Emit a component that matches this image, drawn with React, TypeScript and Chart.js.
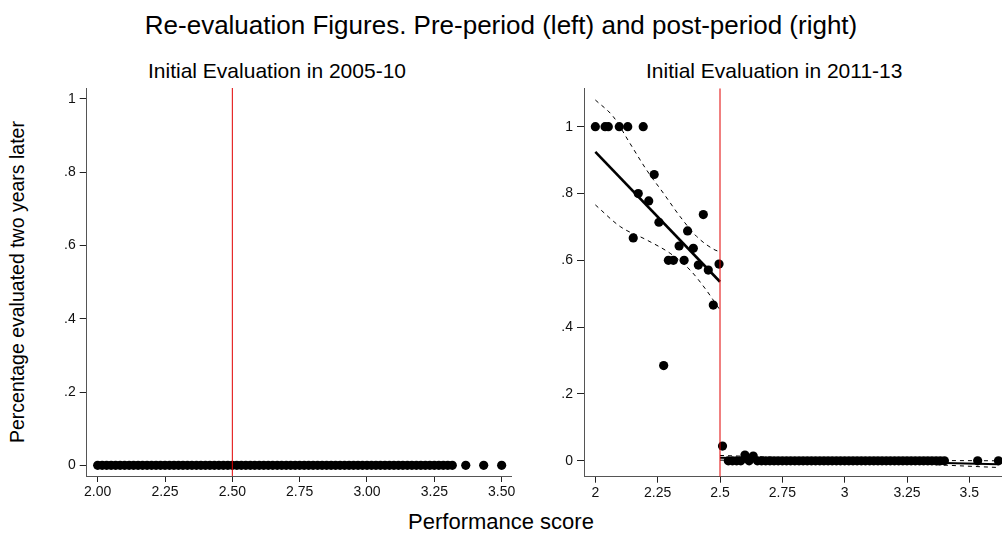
import React, { useEffect, useRef } from "react";
import { Chart, registerables } from "chart.js";

Chart.register(...registerables);

const FONT = "'Liberation Sans', Arial, Helvetica, sans-serif";
Chart.defaults.font.family = FONT;

// ---------- Texts ----------
const MAIN_TITLE = "Re-evaluation Figures. Pre-period (left) and post-period (right)";
const LEFT_TITLE = "Initial Evaluation in 2005-10";
const RIGHT_TITLE = "Initial Evaluation in 2011-13";
const Y_TITLE = "Percentage evaluated two years later";
const X_TITLE = "Performance score";

// ---------- Shared ----------
const CUTOFF = 2.5;
const yTicks = [0, 0.2, 0.4, 0.6, 0.8, 1];

// ---------- Left panel: 2005-10 ----------
const leftXTicks = [2.0, 2.25, 2.5, 2.75, 3.0, 3.25, 3.5];
const preScores = [
  2, 2.0167, 2.0333, 2.05, 2.0667, 2.0833, 2.1, 2.1167, 2.1333, 2.15,
  2.1667, 2.1833, 2.2, 2.2167, 2.2333, 2.25, 2.2667, 2.2833, 2.3, 2.3167,
  2.3333, 2.35, 2.3667, 2.3833, 2.4, 2.4167, 2.4333, 2.45, 2.4667, 2.4833,
  2.5, 2.5167, 2.5333, 2.55, 2.5667, 2.5833, 2.6, 2.6167, 2.6333, 2.65,
  2.6667, 2.6833, 2.7, 2.7167, 2.7333, 2.75, 2.7667, 2.7833, 2.8, 2.8167,
  2.8333, 2.85, 2.8667, 2.8833, 2.9, 2.9167, 2.9333, 2.95, 2.9667, 2.9833,
  3, 3.0167, 3.0333, 3.05, 3.0667, 3.0833, 3.1, 3.1167, 3.1333, 3.15,
  3.1667, 3.1833, 3.2, 3.2167, 3.2333, 3.25, 3.2667, 3.2833, 3.3, 3.3167,
  3.3667, 3.4333, 3.5,
];
// every 2005-10 bin was re-evaluated at a share of 0
const PRE_SHARE = 0;

// ---------- Right panel: 2011-13 ----------
const rightXTicks = [2, 2.25, 2.5, 2.75, 3, 3.25, 3.5];
// bins below the cutoff
const belowX = [
  2.0, 2.039, 2.052, 2.096, 2.13, 2.192, 2.236, 2.172, 2.214, 2.255, 2.152, 2.433,
  2.37, 2.336, 2.393, 2.293, 2.313, 2.356, 2.413, 2.453, 2.496, 2.473, 2.274,
];
const belowY = [
  1, 1, 1, 1, 1, 1, 0.857, 0.8, 0.778, 0.714, 0.667, 0.737,
  0.688, 0.643, 0.636, 0.6, 0.6, 0.6, 0.586, 0.571, 0.589, 0.466, 0.285,
];
// bins above the cutoff with a non-zero share
const aboveX = [2.51, 2.6, 2.6333];
const aboveY = [0.044, 0.017, 0.014];
// bins above the cutoff with a share of 0
const aboveZeroX = [
  2.5333, 2.55, 2.5667, 2.5833, 2.6167, 2.65, 2.6667, 2.6833, 2.7, 2.7167,
  2.7333, 2.75, 2.7667, 2.7833, 2.8, 2.8167, 2.8333, 2.85, 2.8667, 2.8833,
  2.9, 2.9167, 2.9333, 2.95, 2.9667, 2.9833, 3, 3.0167, 3.0333, 3.05,
  3.0667, 3.0833, 3.1, 3.1167, 3.1333, 3.15, 3.1667, 3.1833, 3.2, 3.2167,
  3.2333, 3.25, 3.2667, 3.2833, 3.3, 3.3167, 3.3333, 3.35, 3.3667, 3.3833,
  3.4, 3.5333, 3.6167,
];
// linear fits and 95% CI
const fitBelowX = [2.0, 2.5];
const fitBelowY = [0.925, 0.536];
const ciBelowUpX = [2.0, 2.072, 2.139, 2.206, 2.273, 2.34, 2.407, 2.48, 2.5];
const ciBelowUpY = [1.08, 1.03, 0.95, 0.87, 0.801, 0.731, 0.671, 0.631, 0.626];
const ciBelowLoX = [2.0, 2.1, 2.206, 2.3, 2.38, 2.44, 2.473, 2.5];
const ciBelowLoY = [0.766, 0.701, 0.661, 0.621, 0.571, 0.516, 0.481, 0.451];
const fitAboveX = [2.5, 3.6167];
const fitAboveY = [0.009, -0.01];
const ciAboveUpX = [2.5, 3.05, 3.6167];
const ciAboveUpY = [0.016, 0.003, 0.0];
const ciAboveLoX = [2.5, 3.05, 3.6167];
const ciAboveLoY = [0.002, -0.003, -0.02];

const zip = (xs: number[], ys: number[]) => xs.map((x, i) => ({ x, y: ys[i] }));

const DOT = { pointRadius: 4.6, pointBackgroundColor: "#000", pointBorderWidth: 0, pointHoverRadius: 4.6 };

function fmtY(v: number) {
  if (v === 0) return "0";
  if (v === 1) return "1";
  return v.toFixed(1).replace(/^0/, "");
}

function axes(
  xMin: number, xMax: number, xTicks: number[], xFmt: (v: number) => string,
  yMin: number, yMax: number, yAxisWidth: number, xAxisHeight: number
) {
  const tickFont = { family: FONT, size: 14 };
  return {
    x: {
      type: "linear" as const,
      min: xMin,
      max: xMax,
      afterBuildTicks: (s: any) => { s.ticks = xTicks.map((value) => ({ value })); },
      afterFit: (s: any) => { s.height = xAxisHeight; s.paddingLeft = 0; s.paddingRight = 0; },
      ticks: { callback: (v: any) => xFmt(Number(v)), font: tickFont, color: "#111", padding: 2, maxRotation: 0, autoSkip: false },
      grid: { drawOnChartArea: false, drawTicks: true, tickLength: 6, color: "#222", lineWidth: 1 },
      border: { display: true, color: "#555", width: 1 },
    },
    y: {
      type: "linear" as const,
      min: yMin,
      max: yMax,
      afterBuildTicks: (s: any) => { s.ticks = yTicks.map((value) => ({ value })); },
      afterFit: (s: any) => { s.width = yAxisWidth; s.paddingTop = 0; s.paddingBottom = 0; },
      ticks: { callback: (v: any) => fmtY(Number(v)), font: tickFont, color: "#111", padding: 4, autoSkip: false },
      grid: { drawOnChartArea: false, drawTicks: true, tickLength: 7, color: "#222", lineWidth: 1 },
      border: { display: true, color: "#555", width: 1 },
    },
  };
}

function baseOptions(scales: any, padding: any) {
  return {
    responsive: false,
    animation: false as const,
    events: [] as any[],
    layout: { padding },
    plugins: { legend: { display: false }, tooltip: { enabled: false }, title: { display: false } },
    scales,
  };
}

function LeftPanel() {
  const ref = useRef<HTMLCanvasElement>(null);
  useEffect(() => {
    const yMin = -0.0292, yMax = 1.03;
    const chart = new Chart(ref.current!, {
      type: "scatter",
      data: {
        datasets: [
          { type: "line", data: [{ x: CUTOFF, y: yMin }, { x: CUTOFF, y: yMax }], borderColor: "rgb(225,0,0)", borderWidth: 1, pointRadius: 0, order: 0 } as any,
          { data: preScores.map((x) => ({ x, y: PRE_SHARE })), ...DOT, order: 5 } as any,
        ],
      },
      options: baseOptions(
        axes(1.9592, 3.5373, leftXTicks, (v) => v.toFixed(2), yMin, yMax, 86.7, 34),
        { left: 0, top: 8, right: 18.3, bottom: 0 }
      ) as any,
    });
    return () => chart.destroy();
  }, []);
  return <canvas ref={ref} width={530} height={430} style={{ position: "absolute", left: 0, top: 80, width: 530, height: 430 }} />;
}

function RightPanel() {
  const ref = useRef<HTMLCanvasElement>(null);
  useEffect(() => {
    const yMin = -0.0476, yMax = 1.115;
    const lineBase = { type: "line", pointRadius: 0, borderColor: "#000", fill: false };
    const chart = new Chart(ref.current!, {
      type: "scatter",
      data: {
        datasets: [
          { type: "line", data: [{ x: CUTOFF, y: yMin }, { x: CUTOFF, y: yMax }], borderColor: "rgb(225,0,0)", borderWidth: 1, pointRadius: 0, order: 0 } as any,
          { ...lineBase, data: zip(fitBelowX, fitBelowY), borderWidth: 2.6, order: 1 } as any,
          { ...lineBase, data: zip(fitAboveX, fitAboveY), borderWidth: 2, order: 1 } as any,
          { ...lineBase, data: zip(ciBelowUpX, ciBelowUpY), borderWidth: 1, borderDash: [4, 4], cubicInterpolationMode: "monotone", order: 2 } as any,
          { ...lineBase, data: zip(ciBelowLoX, ciBelowLoY), borderWidth: 1, borderDash: [4, 4], cubicInterpolationMode: "monotone", order: 2 } as any,
          { ...lineBase, data: zip(ciAboveUpX, ciAboveUpY), borderWidth: 1, borderDash: [4, 4], cubicInterpolationMode: "monotone", order: 2 } as any,
          { ...lineBase, data: zip(ciAboveLoX, ciAboveLoY), borderWidth: 1, borderDash: [4, 4], cubicInterpolationMode: "monotone", order: 2 } as any,
          { data: zip(belowX, belowY), ...DOT, order: 5 } as any,
          { data: zip(aboveX, aboveY), ...DOT, order: 5 } as any,
          { data: aboveZeroX.map((x) => ({ x, y: 0 })), ...DOT, order: 5 } as any,
        ],
      },
      options: baseOptions(
        axes(1.9545, 3.659, rightXTicks, (v) => String(v), yMin, yMax, 44, 33.3),
        { left: 0, top: 8.3, right: 11, bottom: 0 }
      ) as any,
    });
    return () => chart.destroy();
  }, []);
  return <canvas ref={ref} width={480} height={430} style={{ position: "absolute", left: 540, top: 80, width: 480, height: 430 }} />;
}

const textBase: React.CSSProperties = {
  position: "absolute",
  fontFamily: FONT,
  color: "#000",
  whiteSpace: "nowrap",
  margin: 0,
};

export default function App() {
  return (
    <div style={{ position: "fixed", left: 0, top: 0, width: 1002, height: 552, overflow: "hidden", background: "#fff" }}>
      <div style={{ ...textBase, left: 0, width: 1002, top: 12, fontSize: 26, lineHeight: "26px", textAlign: "center" }}>{MAIN_TITLE}</div>
      <div style={{ ...textBase, left: 148, top: 60, fontSize: 21, lineHeight: "21px" }}>{LEFT_TITLE}</div>
      <div style={{ ...textBase, left: 646, top: 60, fontSize: 21, lineHeight: "21px" }}>{RIGHT_TITLE}</div>
      <div
        style={{
          ...textBase,
          left: 17 - 200,
          top: 282 - 10,
          width: 400,
          fontSize: 19.5,
          lineHeight: "20px",
          textAlign: "center",
          transform: "rotate(-90deg)",
        }}
      >
        {Y_TITLE}
      </div>
      <div style={{ ...textBase, left: 0, width: 1002, top: 511, fontSize: 22, lineHeight: "22px", textAlign: "center" }}>{X_TITLE}</div>
      <LeftPanel />
      <RightPanel />
    </div>
  );
}
